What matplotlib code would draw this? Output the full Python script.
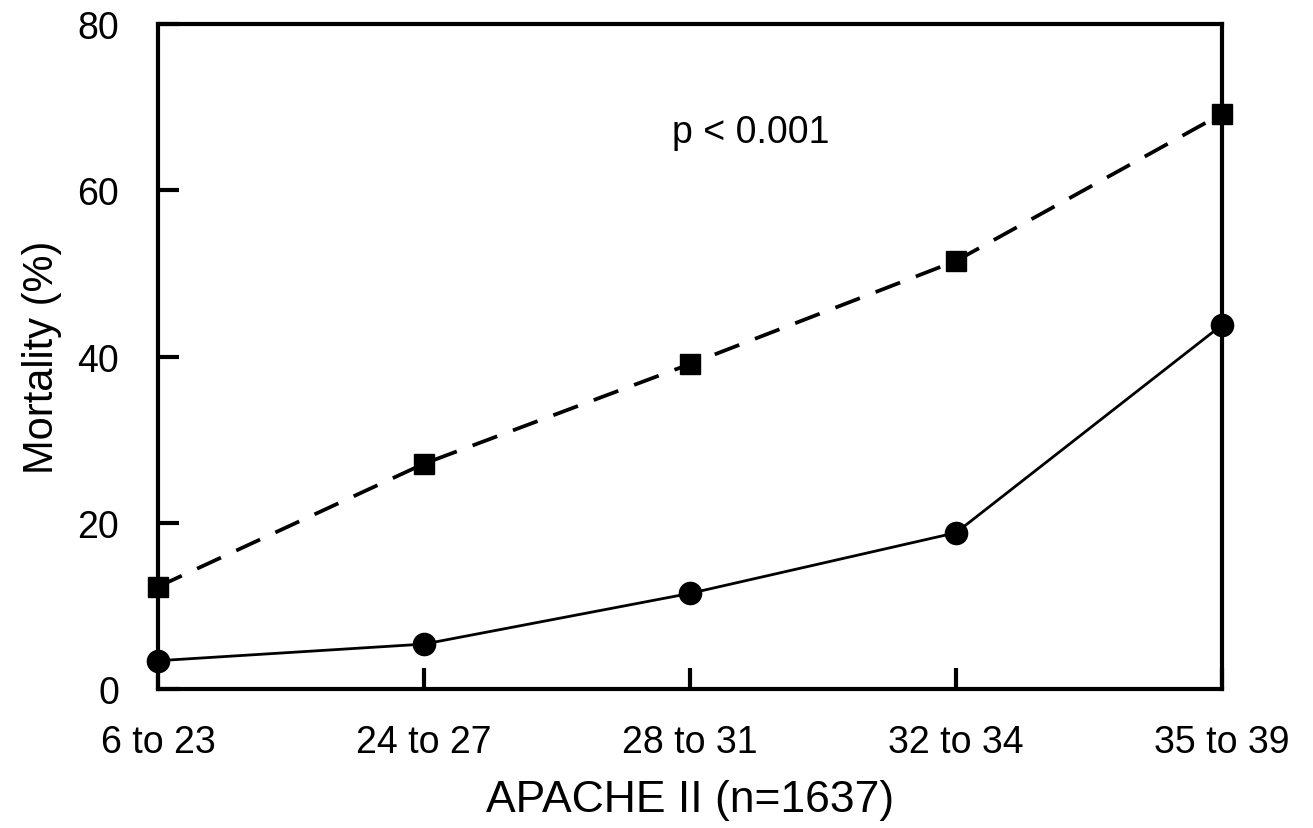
import numpy as np
import matplotlib
matplotlib.use("Agg")
import matplotlib.pyplot as plt

plt.rcParams["font.family"] = ["Liberation Sans", "DejaVu Sans"]

groups = ["6 to 23", "24 to 27", "28 to 31", "32 to 34", "35 to 39"]
mortality_dashed = [12.3, 27.1, 39.1, 51.5, 69.2]
mortality_solid = [3.4, 5.4, 11.5, 18.8, 43.8]
yticks = [0, 20, 40, 60, 80]

fig = plt.figure(figsize=(13.13, 8.29), dpi=100)
ax = fig.add_axes([0.1203, 0.1677, 0.8104, 0.8021])

x = np.arange(len(groups))

ax.plot(x, mortality_dashed, color="black", linewidth=2.7, dashes=(7, 4.5),
        marker="s", markersize=15, clip_on=False, zorder=3)
ax.plot(x, mortality_solid, color="black", linewidth=2.0,
        marker="o", markersize=16, clip_on=False, zorder=3)

ax.text(2.23, 67.0, "p < 0.001", fontsize=27, ha="center", va="center")

ax.set_xlim(0, len(groups) - 1)
ax.set_ylim(0, 80)
ax.set_xticks(x)
ax.set_xticklabels(groups)
ax.set_yticks(yticks)

for side in ax.spines.values():
    side.set_linewidth(3.0)

ax.tick_params(axis="both", direction="in", length=15, width=3.0,
               labelsize=27)
ax.tick_params(axis="x", pad=25)
ax.tick_params(axis="y", pad=28)

ax.set_xlabel("APACHE II (n=1637)", fontsize=32, labelpad=14)
ax.set_ylabel("Mortality (%)", fontsize=30, labelpad=11)

fig.savefig("out.png", dpi=100)
